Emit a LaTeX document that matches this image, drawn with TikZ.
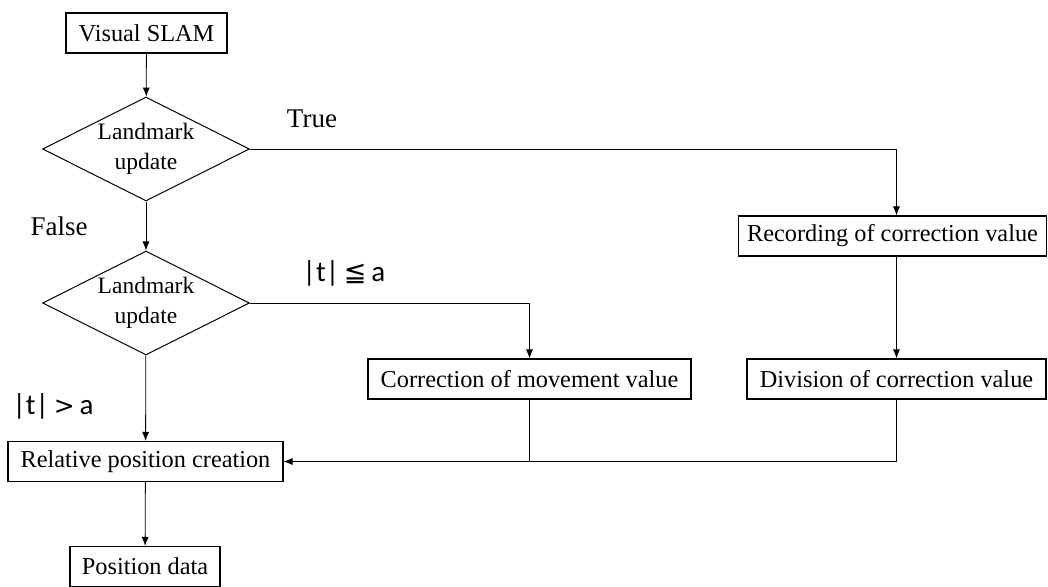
\documentclass[tikz,border=0pt]{standalone}
\usepackage{fontspec}
\setmainfont{Liberation Serif}
\newfontfamily\symfont{DejaVu Sans}
\newfontfamily\lblfont{Carlito}
\usetikzlibrary{shapes.geometric,arrows.meta}
\begin{document}
\begin{tikzpicture}[x=1pt,y=-1pt,
 box/.style={draw, line width=1.1pt, rectangle, minimum height=40pt, inner sep=0pt, font=\fontsize{24.3}{28}\selectfont},
 dec/.style={draw, line width=1pt, diamond, shape aspect=2, minimum width=207pt, minimum height=104pt, inner sep=0pt, align=center, font=\fontsize{23.5}{30}\selectfont},
 conn/.style={line width=0.8pt, -{Latex[length=9pt,width=7pt]}},
 plain/.style={line width=0.8pt},
 lbl/.style={font=\fontsize{27}{30}\selectfont, inner sep=0pt},
 mlbl/.style={font=\lblfont\fontsize{29}{30}\selectfont, inner sep=0pt}]
\useasboundingbox (0,0) rectangle (1048,586);
\node[box, minimum width=161pt] (vs) at (146.5,33) {Visual SLAM};
\node[dec] (d1) at (146,149) {Landmark\\update};
\node[dec] (d2) at (146,303) {Landmark\\update};
\node[box, minimum width=275pt] (rel) at (145.5,461.5) {Relative position creation};
\node[box, minimum width=150pt] (pd) at (145,566.5) {Position data};
\node[box, minimum width=308pt] (rec) at (892.5,236) {Recording of correction value};
\node[box, minimum width=299pt] (div) at (896.5,379) {Division of correction value};
\node[box, minimum width=323pt] (cor) at (529.5,379) {Correction of movement value};
\draw[conn] (vs) -- (d1);
\draw[conn] (d1) -- (d2);
\draw[conn] (d2) -- (rel);
\draw[conn] (rel) -- (pd);
\draw[conn] (d1.east) -| (div.north |- rec.north);
\draw[conn] (div.north |- rec.south) -- (div.north);
\draw[conn] (d2.east) -| (cor.north);
\draw[conn] (div.south) |- (rel.east);
\draw[plain] (cor.south) -- (cor.south |- rel.east);
\node[lbl] (t) at (312,119) {True};
\node[lbl] (f) at (59,226) {False};
\node[mlbl] (le) at (344,273) {|t|\,{\symfont\fontsize{27}{28}\selectfont ≦}\,a};
\node[mlbl] (gt) at (53,406) {|t|\,{\symfont\fontsize{25}{28}\selectfont >}\,a};
\end{tikzpicture}
\end{document}
